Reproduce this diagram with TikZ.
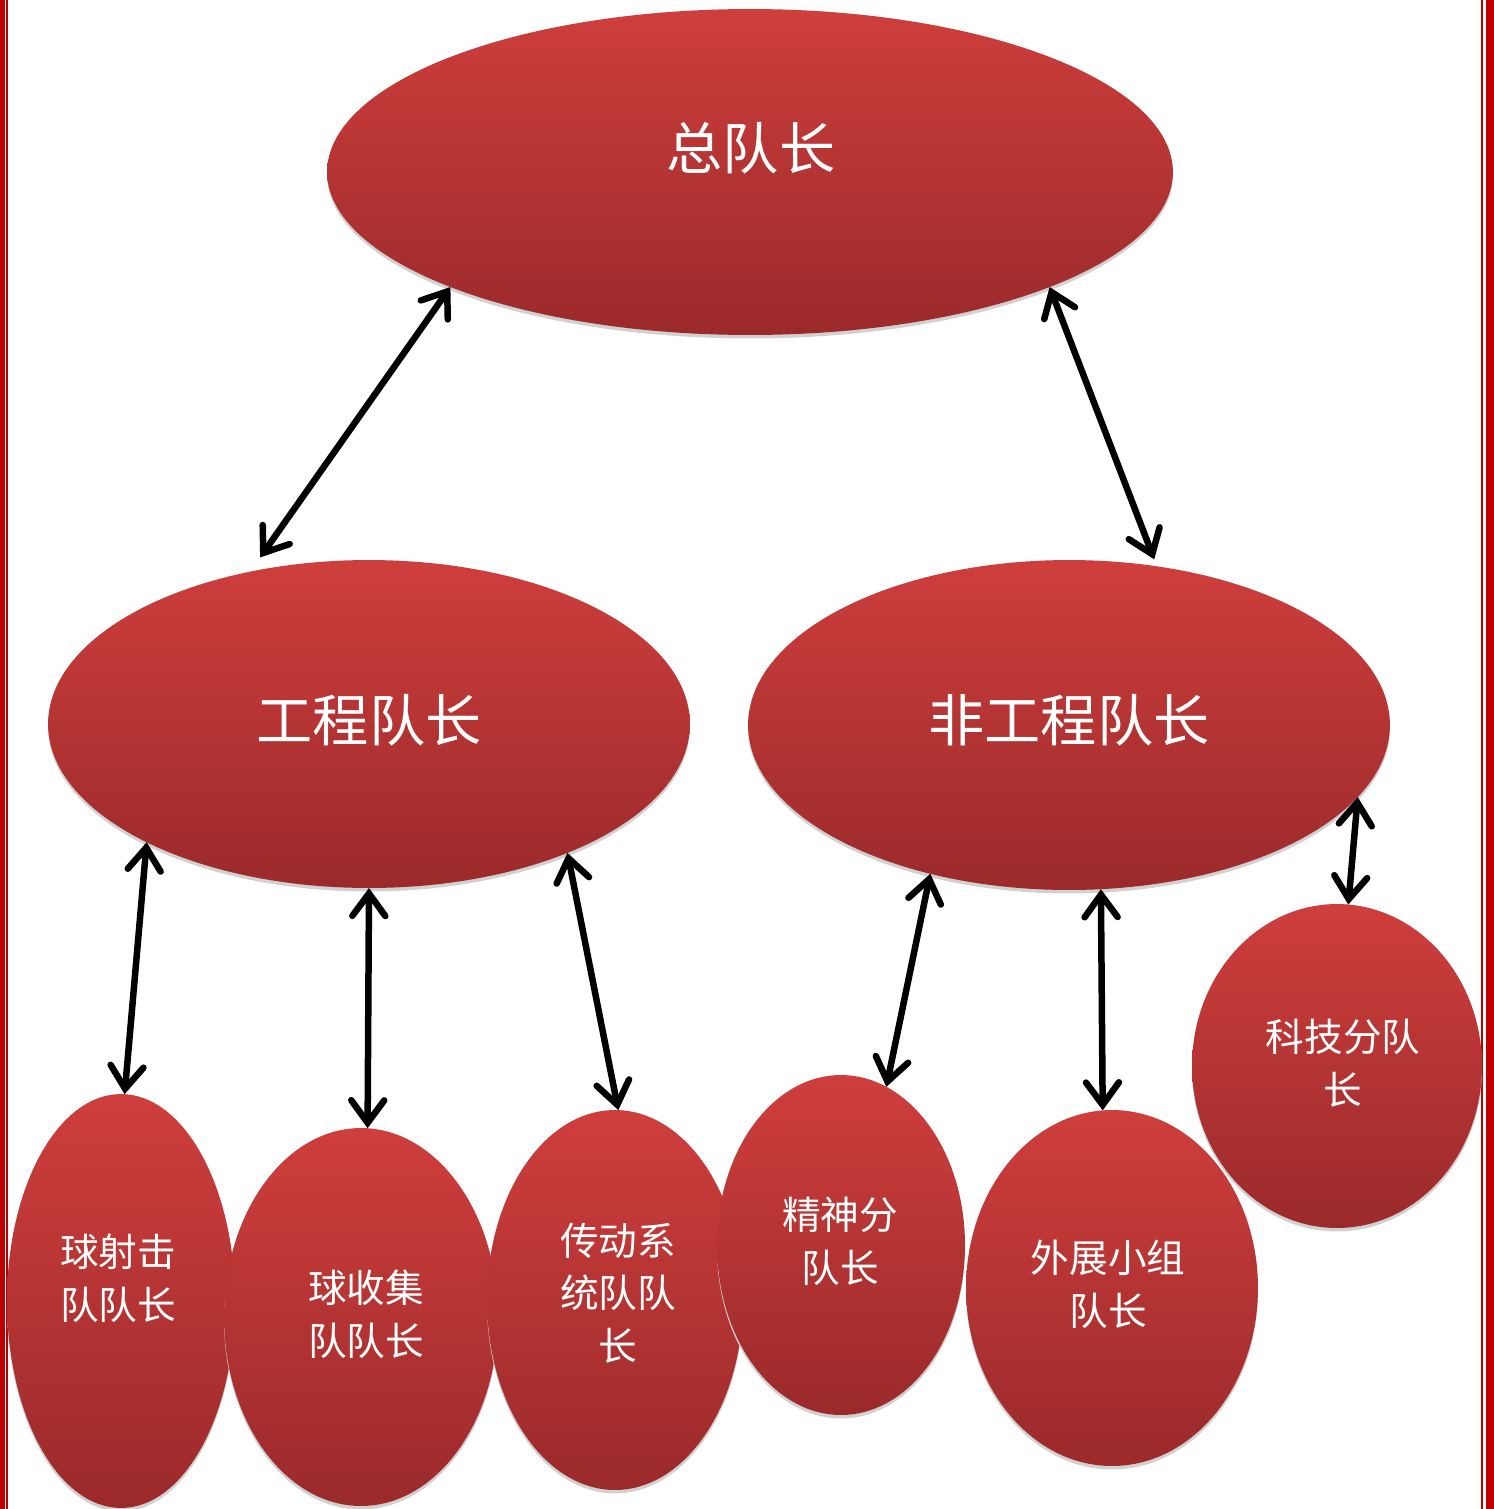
\documentclass[tikz,border=0pt]{standalone}
\usepackage{fontspec}
\setmainfont{Noto Sans CJK SC}
\usetikzlibrary{shapes.geometric,arrows.meta,shadows}
\definecolor{rtop}{RGB}{206,62,60}
\definecolor{rbot}{RGB}{155,42,43}
\definecolor{framered}{RGB}{192,0,0}
\begin{document}
\begin{tikzpicture}[x=0.02cm,y=-0.02cm,
  bubble/.style={ellipse, inner sep=0pt, outer sep=0pt, draw=none,
    top color=rtop, bottom color=rbot,
    drop shadow={shadow xshift=0cm, shadow yshift=-0.07cm, fill=black!18, opacity=1}},
  arr/.style={line width=0.13cm, black, line cap=round,
    {Straight Barb[length=0.45cm,width=0.66cm,line cap=round]}-{Straight Barb[length=0.45cm,width=0.66cm,line cap=round]}},
  txtbig/.style={text=white, font=\fontsize{32}{38}\selectfont, inner sep=0pt},
  txtsmall/.style={text=white, font=\fontsize{22}{30}\selectfont, align=center, inner sep=0pt}]
\useasboundingbox (0,0) rectangle (1494,1509);
% frame
\fill[framered] (0,0) rectangle (5,1509);
\fill[framered] (6,0) rectangle (7.5,1509);
\fill[framered] (1481,0) rectangle (1482.7,1509);
\fill[framered] (1485.5,0) rectangle (1494,1509);
% ellipses
\node[bubble, minimum width=16.92cm, minimum height=6.52cm] (top) at (750,172) {};
\node[bubble, minimum width=12.84cm, minimum height=6.56cm] (eng) at (369,724) {};
\node[bubble, minimum width=12.84cm, minimum height=6.6cm] (neng) at (1069,725) {};
\node[bubble, minimum width=4.56cm, minimum height=8.28cm] (shoot) at (121,1301) {};
\node[bubble, minimum width=5.48cm, minimum height=7.56cm] (collect) at (361,1317) {};
\node[bubble, minimum width=5.12cm, minimum height=7.6cm] (drive) at (615,1300) {};
\node[bubble, minimum width=4.96cm, minimum height=6.8cm] (spirit) at (841,1245) {};
\node[bubble, minimum width=5.84cm, minimum height=7.12cm] (outreach) at (1112,1288) {};
\node[bubble, minimum width=5.8cm, minimum height=6.48cm] (tech) at (1337,1066) {};
% texts
\node[txtbig] (t0) at (751,148) {总队长};
\node[txtbig] (t1) at (369,720) {工程队长};
\node[txtbig] (t2) at (1069,720) {非工程队长};
\node[txtsmall] (t3) at (118,1278) {球射击\\队队长};
\node[txtsmall] (t4) at (366,1314) {球收集\\队队长};
\node[txtsmall] (t5) at (618,1293) {传动系\\统队队\\长};
\node[txtsmall] (t6) at (840,1241) {精神分\\队长};
\node[txtsmall] (t7) at (1108,1284) {外展小组\\队长};
\node[txtsmall] (t8) at (1343,1063) {科技分队\\长};
% connectors
\draw[arr, shorten >=0.35cm] (top.-159.3) -- (eng.128.6);
\draw[arr, shorten >=0.15cm] (top.-21.8) -- (neng.61.8);
\draw[arr] (eng.-152.2) -- (shoot.89.7);
\draw[arr] (eng.-90) -- (collect.88.8);
\draw[arr] (eng.-33.1) -- (drive.89);
\draw[arr] (neng.-133.2) -- (spirit.74.6);
\draw[arr] (neng.-79.5) -- (outreach.93.8);
\draw[arr] (neng.-14.3) -- (tech.86.9);
\end{tikzpicture}
\end{document}
